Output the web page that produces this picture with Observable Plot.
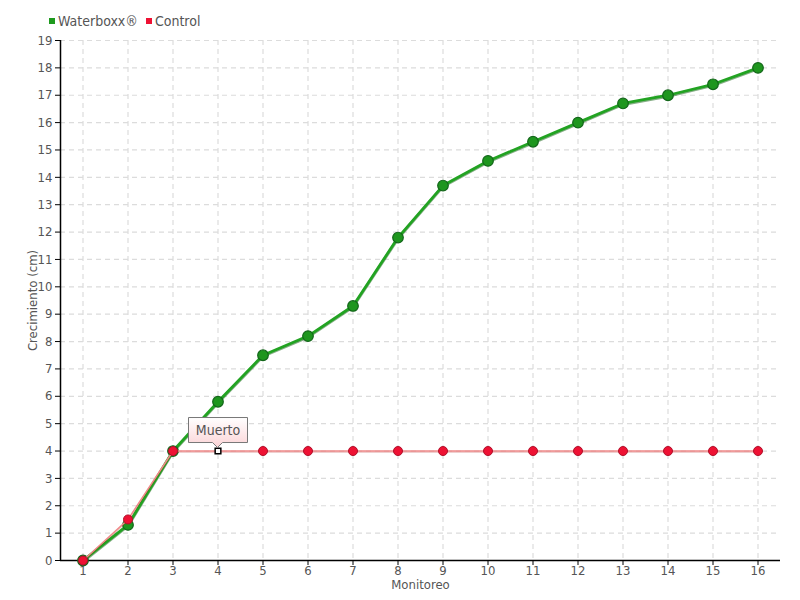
<!DOCTYPE html>
<html><head><meta charset="utf-8">
<script src="https://cdn.jsdelivr.net/npm/d3@7"></script>
<script src="https://cdn.jsdelivr.net/npm/@observablehq/plot@0.6"></script>
<style>
body{margin:0;background:#fff;}
#wrap{position:relative;width:800px;height:600px;font-family:"DejaVu Sans Condensed","DejaVu Sans",sans-serif;color:#555;}
#legend{position:absolute;left:49px;top:13px;font-size:14px;display:flex;align-items:center;gap:8px;}
#legend span.sw{display:inline-block;width:6px;height:6px;margin-right:3px;vertical-align:middle;position:relative;top:-1px}
</style></head><body>
<div id="wrap"><div id="legend"></div></div>
<script>
const monitoreo = [1,2,3,4,5,6,7,8,9,10,11,12,13,14,15,16];
const waterboxx = [0,1.3,4.0,5.8,7.5,8.2,9.3,11.8,13.7,14.6,15.3,16.0,16.7,17.0,17.4,18.0];
const control   = [0,1.5,4,4,4,4,4,4,4,4,4,4,4,4,4,4];
const yTicks = [0,1,2,3,4,5,6,7,8,9,10,11,12,13,14,15,16,17,18,19];
const seriesNames = ["Waterboxx®","Control"];
const seriesColors = ["#1e9a1e","#ee1133"];
const deadIndex = 3; // monitoreo 4
const deadLabel = "Muerto";

const wb = monitoreo.map((m,i)=>({m, v: waterboxx[i]}));
const ct = monitoreo.map((m,i)=>({m, v: control[i]}));
const ctAlive = ct.filter((d,i)=>i!==deadIndex);
const ctDead = [ct[deadIndex]];

const font = `"DejaVu Sans Condensed","DejaVu Sans",sans-serif`;

const chart = Plot.plot({
  width: 800, height: 600,
  marginLeft: 60, marginRight: 20, marginTop: 40, marginBottom: 40,
  style: {fontFamily: font, fontSize: "13px", color: "#555", background: "#fff"},
  x: {domain: [0.5, 16.5], label: null},
  y: {domain: [0, 19], label: null},
  marks: [
    Plot.gridX(monitoreo, {stroke: "#dcdcdc", strokeOpacity: 1, strokeDasharray: "5,4", strokeWidth: 1.2}),
    Plot.gridY(yTicks.filter(d=>d>0), {stroke: "#dcdcdc", strokeOpacity: 1, strokeDasharray: "5,4", strokeWidth: 1.2}),
    Plot.axisX(monitoreo, {tickSize: 5, tickPadding: 0, stroke: "#000", fill: "#555", fontSize: 13, label: null}),
    Plot.axisY(yTicks, {tickSize: 5, tickPadding: 3, stroke: "#000", fill: "#555", fontSize: 13, label: null}),
    Plot.ruleX([0.5], {stroke: "#000", strokeWidth: 1.5}),
    Plot.ruleY([0], {stroke: "#000", strokeWidth: 1.5}),
    Plot.text(["Monitoreo"], {frameAnchor: "bottom", dy: 28, fill: "#555", fontSize: 13}),
    Plot.text(["Crecimiento (cm)"], {frameAnchor: "left", textAnchor: "middle", dx: -28, rotate: -90, fill: "#555", fontSize: 13}),
    // green shadow + line
    Plot.line(wb, {x: "m", y: "v", stroke: "#0d5e0d", strokeWidth: 3, strokeOpacity: 0.5, dy: 1}),
    Plot.line(wb, {x: "m", y: "v", stroke: "#22a322", strokeWidth: 2.8}),
    Plot.dot(wb, {x: "m", y: "v", r: 5.3, fill: "#1e961e", stroke: "#13661a", strokeWidth: 1.2}),
    // control line
    Plot.line(ct, {x: "m", y: "v", stroke: "#a00", strokeWidth: 1.5, strokeOpacity: 0.25, dy: 1}),
    Plot.line(ct, {x: "m", y: "v", stroke: "#f08a8a", strokeWidth: 1.5}),
    Plot.dot(ctAlive, {x: "m", y: "v", r: 4.5, fill: "#ee1133", stroke: "#b0102a", strokeWidth: 1}),
    Plot.dot(ctDead, {x: "m", y: "v", symbol: "square", r: 3.2, fill: "#fff", stroke: "#000", strokeWidth: 1.5})
  ]
});
document.getElementById("wrap").appendChild(chart);

// legend
const leg = document.getElementById("legend");
seriesNames.forEach((n,i)=>{
  const s = document.createElement("span");
  s.innerHTML = `<span class="sw" style="background:${seriesColors[i]}"></span>${n}`;
  leg.appendChild(s);
});

// tooltip annotation
const svg = d3.select(chart);
const px = chart.scale("x").apply(monitoreo[deadIndex]);
const py = chart.scale("y").apply(control[deadIndex]);
const defs = svg.append("defs");
const grad = defs.append("linearGradient").attr("id","tipg").attr("x1",0).attr("y1",0).attr("x2",0).attr("y2",1);
grad.append("stop").attr("offset","0%").attr("stop-color","#ffffff");
grad.append("stop").attr("offset","100%").attr("stop-color","#fbd3d6");
const L = px-29, R = px+30, T = py-33, B = py-8;
const g = svg.append("g");
g.append("path")
  .attr("d", `M${L},${T}H${R}V${B}H${px+5}L${px},${py-3}L${px-5},${B}H${L}Z`)
  .attr("fill","url(#tipg)").attr("stroke","#777").attr("stroke-width",1);
g.append("text").attr("x",(L+R)/2).attr("y",(T+B)/2).attr("dy","0.35em")
  .attr("text-anchor","middle").attr("fill","#555").attr("font-size",14).attr("font-family",font)
  .text(deadLabel);
</script>
</body></html>
